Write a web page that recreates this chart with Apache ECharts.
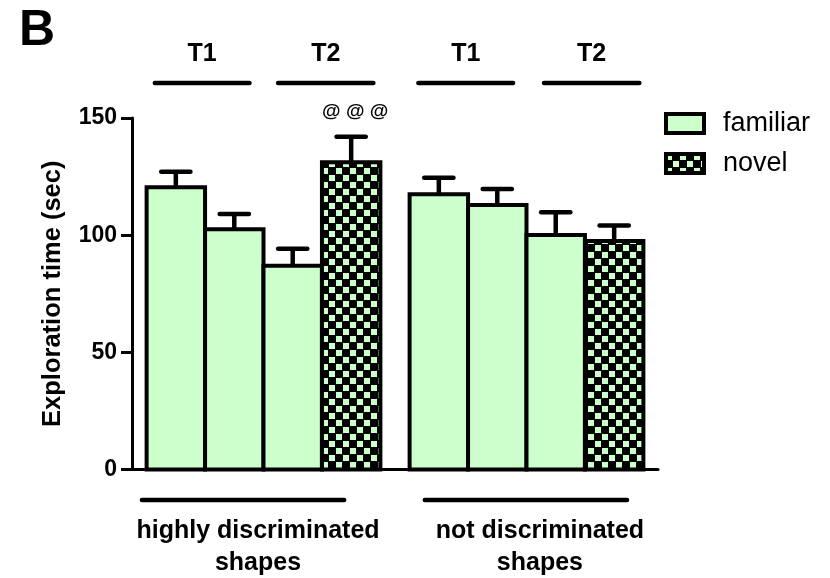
<!DOCTYPE html>
<html>
<head>
<meta charset="utf-8">
<script src="https://cdn.jsdelivr.net/npm/echarts@6/dist/echarts.min.js"></script>
<style>
  html, body { margin: 0; padding: 0; background: #fff; }
  #chart { width: 830px; height: 578px; }
</style>
</head>
<body>
<div id="chart"></div>
<script>
// Exploration time of familiar vs novel objects, two shape sets, trials T1/T2
const groupNames = ['highly discriminated\nshapes', 'not discriminated\nshapes'];
const trialNames = ['T1', 'T2', 'T1', 'T2'];
const objectTypes = ['familiar', 'novel'];
const barObject = ['familiar', 'familiar', 'familiar', 'novel', 'familiar', 'familiar', 'familiar', 'novel'];
const meanTime = [120.4, 102.5, 87.0, 131.1, 117.5, 112.9, 100.1, 97.5];
const semTime = [6.7, 6.5, 7.2, 10.9, 7.0, 6.8, 9.7, 6.6];
const significance = ['', '', '', '@ @ @', '', '', '', ''];
const yTicks = [0, 50, 100, 150];

const FONT = '"Liberation Sans", Arial, Helvetica, sans-serif';
const GREEN = '#CCFFCC';

// checkerboard tile used for the "novel" fill
function checkerTile() {
  const c = document.createElement('canvas');
  c.width = 14; c.height = 14;
  const g = c.getContext('2d');
  g.fillStyle = '#000';
  g.fillRect(0, 0, 14, 14);
  g.fillStyle = GREEN;
  g.fillRect(0, 0, 6, 6);
  g.fillRect(7, 7, 6, 6);
  return c;
}
const checker = { image: checkerTile(), repeat: 'repeat' };
const fills = { familiar: GREEN, novel: checker };

// bar slot along the x axis: bars are one unit wide, second set shifted by half a bar
const slotOf = i => i + 0.75 + (i >= 4 ? 0.5 : 0);

function seriesData(type) {
  const out = [];
  meanTime.forEach((m, i) => {
    if (barObject[i] === type) out.push([slotOf(i), m, semTime[i], significance[i]]);
  });
  return out;
}

function makeRenderer(fill) {
  return function (params, api) {
    const x = api.value(0), m = api.value(1), s = api.value(2);
    const tag = api.value(3);
    const tl = api.coord([x - 0.5, m]);
    const br = api.coord([x + 0.5, 0]);
    const err = api.coord([x, m + s]);
    const capHalf = api.size([0.25, 0])[0];
    const children = [
      { type: 'line', shape: { x1: err[0], y1: tl[1], x2: err[0], y2: err[1] },
        style: { stroke: '#000', lineWidth: 4.5 } },
      { type: 'line', shape: { x1: err[0] - capHalf, y1: err[1], x2: err[0] + capHalf, y2: err[1] },
        style: { stroke: '#000', lineWidth: 4.5, lineCap: 'round' } },
      { type: 'rect', shape: { x: tl[0], y: tl[1], width: br[0] - tl[0], height: br[1] - tl[1] },
        style: { fill: fill, stroke: '#000', lineWidth: 4 } }
    ];
    if (tag) {
      children.push({ type: 'text', x: err[0] + 4, y: err[1] - 25,
        style: { text: tag, font: 'bold 19px ' + FONT, fill: '#000', align: 'center', verticalAlign: 'middle' } });
    }
    return { type: 'group', children: children };
  };
}

const chart = echarts.init(document.getElementById('chart'), null, { renderer: 'canvas' });

chart.setOption({
  animation: false,
  backgroundColor: '#fff',
  grid: { left: 132, top: 118, right: 172, bottom: 108.5, containLabel: false },
  xAxis: {
    type: 'value', min: 0, max: 9,
    axisLine: { show: true, onZero: false, lineStyle: { color: '#000', width: 3 } },
    axisTick: { show: false }, axisLabel: { show: false }, splitLine: { show: false }
  },
  yAxis: {
    type: 'value', min: yTicks[0], max: yTicks[yTicks.length - 1], interval: yTicks[1] - yTicks[0],
    name: 'Exploration time (sec)', nameLocation: 'middle', nameGap: 66, nameRotate: 90,
    nameTextStyle: { fontFamily: FONT, fontWeight: 'bold', fontSize: 25.5, color: '#000' },
    axisLine: { show: true, lineStyle: { color: '#000', width: 3 } },
    axisTick: { show: true, length: 11, lineStyle: { color: '#000', width: 3 } },
    axisLabel: { fontFamily: FONT, fontWeight: 'bold', fontSize: 23, color: '#000', margin: 15 },
    splitLine: { show: false }
  },
  legend: {
    orient: 'vertical', left: 659, top: 105,
    itemWidth: 38, itemHeight: 19, itemGap: 13, icon: 'rect',
    itemStyle: { borderColor: '#000', borderWidth: 4 },
    textStyle: { fontFamily: FONT, fontSize: 27, color: '#000', padding: [0, 0, 0, 14] },
    data: objectTypes
  },
  series: objectTypes.map(t => ({
    name: t, type: 'custom', clip: false,
    itemStyle: { color: fills[t] },
    renderItem: makeRenderer(fills[t]),
    encode: { x: 0, y: [1, 2] },
    data: seriesData(t)
  }))
});

// trial brackets above, shape-set brackets below
const px = v => chart.convertToPixel({ xAxisIndex: 0 }, v);
const trialSpans = [[0.39, 2.01], [2.5, 4.13], [4.9, 6.52], [7.05, 8.68]];
const groupSpans = [[0.17, 3.63], [5.01, 8.47]];
const groupTextAt = [2.156, 6.98];
const graphics = [
  { type: 'text', x: 37, y: 31, style: { text: 'B', font: 'bold 50px ' + FONT, fill: '#000', align: 'center', verticalAlign: 'middle' } }
];
trialSpans.forEach((sp, k) => {
  const a = px(sp[0]), b = px(sp[1]);
  graphics.push({ type: 'line', shape: { x1: a, y1: 83, x2: b, y2: 83 }, style: { stroke: '#000', lineWidth: 4.5, lineCap: 'round' } });
  graphics.push({ type: 'text', x: (a + b) / 2, y: 54, style: { text: trialNames[k], font: 'bold 25px ' + FONT, fill: '#000', align: 'center', verticalAlign: 'middle' } });
});
groupSpans.forEach((sp, k) => {
  const a = px(sp[0]), b = px(sp[1]);
  graphics.push({ type: 'line', shape: { x1: a, y1: 500, x2: b, y2: 500 }, style: { stroke: '#000', lineWidth: 4.5, lineCap: 'round' } });
  graphics.push({ type: 'text', x: px(groupTextAt[k]), y: 547, style: { text: groupNames[k], font: 'bold 25px ' + FONT, lineHeight: 32, fill: '#000', align: 'center', verticalAlign: 'middle' } });
});
chart.setOption({ graphic: graphics });
</script>
</body>
</html>
